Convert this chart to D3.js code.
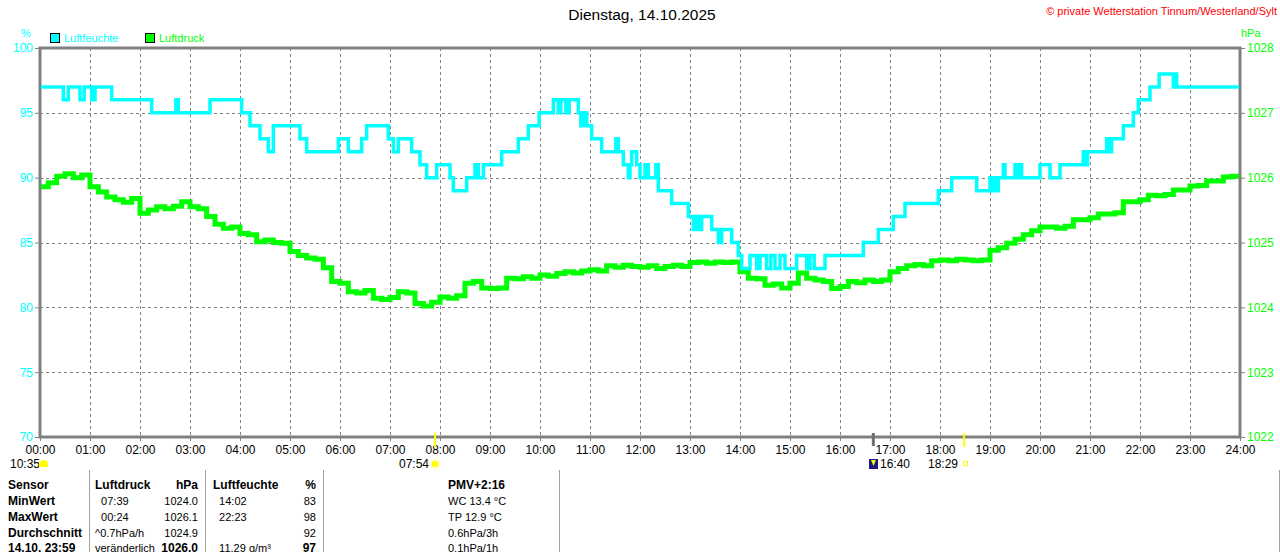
<!DOCTYPE html>
<html>
<head>
<meta charset="utf-8">
<script src="https://cdn.jsdelivr.net/npm/d3@7"></script>
<style>
  body { margin: 0; background: #fff; }
  svg { display: block; font-family: "Liberation Sans", Arial, sans-serif; }
</style>
</head>
<body>
<svg id="chart" width="1280" height="552"></svg>
<script>
// ---- data ----
const hours = d3.range(0, 25);
const humTicks = [70, 75, 80, 85, 90, 95, 100];
const pressTicks = [1022, 1023, 1024, 1025, 1026, 1027, 1028];

// Luftfeuchte: [minute of day, %] change points (step data)
const humidity = [
  [0, 97], [28, 96], [34, 97], [48, 96], [53, 97], [62, 96], [66, 97], [86, 96],
  [134, 95], [163, 96], [166, 95], [204, 96], [242, 95], [252, 94], [264, 93],
  [274, 92], [280, 94], [312, 93], [320, 92], [358, 93], [370, 92], [386, 93],
  [392, 94], [418, 93], [424, 92], [430, 93], [446, 92], [456, 91], [464, 90],
  [476, 91], [492, 90], [496, 89], [512, 90], [522, 91], [526, 90], [532, 91],
  [554, 92], [574, 93], [586, 94], [599, 95], [616, 96], [622, 95], [625, 96],
  [631, 95], [635, 96], [646, 95], [649, 94], [652, 95], [656, 94], [662, 93],
  [674, 92], [691, 93], [694, 92], [700, 91], [706, 90], [708, 91], [710, 92],
  [716, 91], [720, 90], [726, 91], [730, 90], [739, 91], [742, 89], [758, 88],
  [778, 87], [784, 86], [787, 87], [790, 86], [794, 87], [806, 86], [814, 85],
  [818, 86], [830, 85], [838, 84], [842, 83], [852, 84], [860, 83], [864, 84],
  [872, 83], [877, 84], [882, 83], [888, 84], [894, 83], [908, 84], [920, 83],
  [924, 84], [929, 83], [942, 84], [988, 85], [1006, 86], [1024, 87], [1038, 88],
  [1078, 89], [1094, 90], [1124, 89], [1140, 90], [1143, 89], [1146, 90],
  [1148, 89], [1150, 90], [1156, 91], [1158, 90], [1170, 91], [1173, 90],
  [1175, 91], [1178, 90], [1200, 91], [1212, 90], [1224, 91], [1252, 92],
  [1254, 91], [1257, 92], [1280, 93], [1284, 92], [1286, 93], [1300, 94],
  [1312, 95], [1318, 96], [1332, 97], [1343, 98], [1360, 97], [1362, 98],
  [1364, 97], [1440, 97]
];

// Luftdruck: hPa every 10 minutes, 00:00 ... 24:00
const pressure = [
  1025.86, 1025.92, 1026.02, 1026.06, 1026.00, 1026.04,
  1025.86, 1025.78, 1025.70, 1025.66, 1025.62, 1025.68,
  1025.45, 1025.50, 1025.55, 1025.52, 1025.56, 1025.63,
  1025.55, 1025.52, 1025.40, 1025.28, 1025.22, 1025.24,
  1025.14, 1025.12, 1025.01, 1025.04, 1025.00, 1024.99,
  1024.86, 1024.80, 1024.76, 1024.74, 1024.61, 1024.40,
  1024.37, 1024.24, 1024.22, 1024.26, 1024.14, 1024.12,
  1024.15, 1024.24, 1024.22, 1024.06, 1024.02, 1024.08,
  1024.16, 1024.14, 1024.18, 1024.37, 1024.40, 1024.30,
  1024.29, 1024.30, 1024.45, 1024.44, 1024.47, 1024.45,
  1024.50, 1024.48, 1024.52, 1024.55, 1024.53, 1024.56,
  1024.58, 1024.56, 1024.64, 1024.62, 1024.65, 1024.63,
  1024.62, 1024.64, 1024.60, 1024.63, 1024.65, 1024.63,
  1024.69, 1024.70, 1024.68, 1024.70, 1024.69, 1024.70,
  1024.55, 1024.45, 1024.44, 1024.34, 1024.36, 1024.30,
  1024.37, 1024.53, 1024.45, 1024.42, 1024.40, 1024.29,
  1024.32, 1024.40, 1024.38, 1024.42, 1024.40, 1024.42,
  1024.55, 1024.60, 1024.64, 1024.66, 1024.64, 1024.72,
  1024.73, 1024.72, 1024.74, 1024.73, 1024.72, 1024.73,
  1024.88, 1024.92, 1024.99, 1025.05, 1025.12, 1025.18,
  1025.24, 1025.24, 1025.22, 1025.25, 1025.35, 1025.35,
  1025.38, 1025.44, 1025.44, 1025.46, 1025.63, 1025.63,
  1025.66, 1025.73, 1025.72, 1025.74, 1025.81, 1025.81,
  1025.87, 1025.88, 1025.95, 1025.95, 1026.01, 1026.02,
  1026.00
];

// sun / moon events (minute of day)
const sunrise = 474, sunset = 1109, moonrise = 1000;

// statistics table
const tableColumns = [
  ["Sensor", "MinWert", "MaxWert", "Durchschnitt", "14.10. 23:59"],
  ["Luftdruck", "  07:39", "  00:24", "^0.7hPa/h", "veränderlich"],
  ["hPa", "1024.0", "1026.1", "1024.9", "1026.0"],
  ["Luftfeuchte", "  14:02", "  22:23", "", "  11.29 g/m³"],
  ["%", "83", "98", "92", "97"],
  ["PMV+2:16", "WC 13.4 °C", "TP 12.9 °C", "0.6hPa/3h", "0.1hPa/1h"]
];

// ---- drawing ----
const svg = d3.select("#chart");
const plotL = 40, plotR = 1240, plotT = 48, plotB = 437;
const gray = "#808080";
const cyan = "#00ffff", green = "#00ff00";

const x = d3.scaleLinear().domain([0, 1440]).range([plotL, plotR]);
const yHum = d3.scaleLinear().domain([70, 100]).range([plotB, plotT]);
const yP = d3.scaleLinear().domain([1022, 1028]).range([plotB, plotT]);

// title + copyright
svg.append("text").attr("x", 642).attr("y", 20).attr("text-anchor", "middle")
  .attr("font-size", 15.5).attr("fill", "#000").text("Dienstag, 14.10.2025");
svg.append("text").attr("x", 1277).attr("y", 15).attr("text-anchor", "end")
  .attr("font-size", 11).attr("fill", "#ff0000")
  .text("© private Wetterstation Tinnum/Westerland/Sylt");

// unit labels
svg.append("text").attr("x", 26).attr("y", 37).attr("text-anchor", "middle")
  .attr("font-size", 11).attr("fill", cyan).text("%");
svg.append("text").attr("x", 1241).attr("y", 37)
  .attr("font-size", 11).attr("fill", green).text("hPa");

// legend
const legend = [["Luftfeuchte", cyan, 50], ["Luftdruck", green, 145]];
legend.forEach(([name, col, lx]) => {
  svg.append("rect").attr("x", lx + 0.5).attr("y", 33.5).attr("width", 9).attr("height", 9)
    .attr("fill", col).attr("stroke", "#000");
  svg.append("text").attr("x", lx + 14).attr("y", 42).attr("font-size", 11)
    .attr("fill", col).text(name);
});

// grid
const grid = svg.append("g").attr("stroke", gray).attr("stroke-dasharray", "3,3");
grid.selectAll(".vg").data(hours.slice(1, 24)).enter().append("line")
  .attr("x1", d => x(d * 60) + 0.5).attr("x2", d => x(d * 60) + 0.5)
  .attr("y1", plotT).attr("y2", plotB);
grid.selectAll(".hg").data(humTicks.slice(1, 6)).enter().append("line")
  .attr("x1", plotL).attr("x2", plotR)
  .attr("y1", d => Math.round(yHum(d)) + 0.5).attr("y2", d => Math.round(yHum(d)) + 0.5);

// axes
const fmtHour = d => String(d / 60).padStart(2, "0") + ":00";
const axL = svg.append("g").attr("transform", `translate(${plotL},0)`)
  .call(d3.axisLeft(yHum).tickValues(humTicks).tickSize(5).tickPadding(2));
const axR = svg.append("g").attr("transform", `translate(${plotR},0)`)
  .call(d3.axisRight(yP).tickValues(pressTicks).tickSize(5).tickPadding(2).tickFormat(d3.format("d")));
const axB = svg.append("g").attr("transform", `translate(0,${plotB})`)
  .call(d3.axisBottom(x).tickValues(hours.map(h => h * 60)).tickSize(4).tickPadding(4).tickFormat(fmtHour));
[axL, axR, axB].forEach(a => {
  a.select(".domain").remove();
  a.selectAll(".tick line").attr("stroke", gray);
  a.selectAll(".tick text").attr("font-size", 12)
    .attr("font-family", "'Liberation Sans', Arial, sans-serif");
});
axL.selectAll(".tick text").attr("fill", cyan);
axR.selectAll(".tick text").attr("fill", green);
axB.selectAll(".tick text").attr("fill", "#000");

// frame
svg.append("rect").attr("x", plotL).attr("y", plotT).attr("width", plotR - plotL)
  .attr("height", plotB - plotT).attr("fill", "none").attr("stroke", gray).attr("stroke-width", 3);

// series
svg.append("clipPath").attr("id", "plot").append("rect")
  .attr("x", plotL + 1).attr("y", plotT + 1).attr("width", plotR - plotL - 2).attr("height", plotB - plotT - 2);

svg.append("path").attr("clip-path", "url(#plot)")
  .datum(pressure.map((v, i) => [i * 10, v]))
  .attr("fill", "none").attr("stroke", green).attr("stroke-width", 5)
  .attr("d", d3.line().curve(d3.curveStepAfter).x(d => x(d[0])).y(d => yP(d[1])));

svg.append("path").attr("clip-path", "url(#plot)")
  .datum(humidity)
  .attr("fill", "none").attr("stroke", cyan).attr("stroke-width", 3.5)
  .attr("d", d3.line().curve(d3.curveStepAfter).x(d => x(d[0])).y(d => yHum(d[1])));

// sun / moon markers below the axis
svg.append("line").attr("x1", x(sunrise)).attr("x2", x(sunrise)).attr("y1", 433).attr("y2", 447)
  .attr("stroke", "#ffff00").attr("stroke-width", 2);
svg.append("line").attr("x1", x(sunset)).attr("x2", x(sunset)).attr("y1", 433).attr("y2", 447)
  .attr("stroke", "#ffff00").attr("stroke-width", 2);
svg.append("line").attr("x1", x(moonrise)).attr("x2", x(moonrise)).attr("y1", 433).attr("y2", 446)
  .attr("stroke", "#707070").attr("stroke-width", 3);

const ev = svg.append("g").attr("font-size", 12).attr("fill", "#000");
ev.append("text").attr("x", 10).attr("y", 468).text("10:35");
svg.append("path").attr("d", "M39,467 L39,464 A4.5,4 0 0 1 48,464 L48,467 Z").attr("fill", "#ffff00");
ev.append("text").attr("x", 429).attr("y", 468).attr("text-anchor", "end").text("07:54");
const sx = x(sunrise), sy = 464;
svg.append("circle").attr("cx", sx).attr("cy", sy).attr("r", 3.5).attr("fill", "#ffff00");
d3.range(8).forEach(k => {
  const a = k * Math.PI / 4;
  svg.append("line").attr("x1", sx + Math.cos(a) * 4.5).attr("y1", sy + Math.sin(a) * 4.5)
    .attr("x2", sx + Math.cos(a) * 6).attr("y2", sy + Math.sin(a) * 6)
    .attr("stroke", "#ffff80").attr("stroke-width", 1);
});
svg.append("rect").attr("x", 869).attr("y", 459).attr("width", 9).attr("height", 10).attr("fill", "#1a1a80");
svg.append("path").attr("d", "M871,460 L876,460 L873.5,466 Z").attr("fill", "#ffff00");
ev.append("text").attr("x", 880).attr("y", 468).text("16:40");
ev.append("text").attr("x", 958).attr("y", 468).attr("text-anchor", "end").text("18:29");
svg.append("rect").attr("x", 963.5).attr("y", 461.5).attr("width", 4).attr("height", 4)
  .attr("fill", "none").attr("stroke", "#ffff00");

// table
[89, 205, 323, 559, 1279].forEach(sepX => {
  svg.append("line").attr("x1", sepX + 0.5).attr("x2", sepX + 0.5).attr("y1", 470).attr("y2", 552)
    .attr("stroke", "#a0a0a0");
});
const colX = [8, 95, 198, 213, 316, 448];
const colAnchor = ["start", "start", "end", "start", "end", "start"];
const rowY = [489, 505, 521, 537, 552];
const tbl = svg.append("g").attr("fill", "#000");
tableColumns.forEach((col, ci) => {
  col.forEach((val, ri) => {
    const bold = ri === 0 || ci === 0 || (ri === 4 && (ci === 2 || ci === 4));
    tbl.append("text").attr("x", colX[ci]).attr("y", rowY[ri])
      .attr("text-anchor", colAnchor[ci])
      .attr("font-size", bold ? 12 : 11)
      .attr("font-weight", bold ? "bold" : "normal")
      .attr("xml:space", "preserve").style("white-space", "pre")
      .text(val);
  });
});
</script>
</body>
</html>
